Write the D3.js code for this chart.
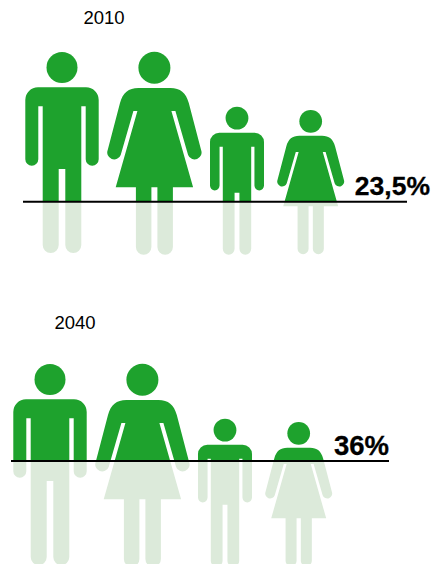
<!DOCTYPE html>
<html>
<head>
<meta charset="utf-8">
<script src="https://cdn.jsdelivr.net/npm/d3@7"></script>
<style>
  html, body { margin: 0; padding: 0; background: #fff; }
  svg { display: block; }
  text { font-family: "Liberation Sans", Arial, sans-serif; fill: #000; }
</style>
</head>
<body>
<div id="chart"></div>
<script>
// data
const years = ["2010", "2040"];
const shares = [23.5, 36];
const shareLabels = ["23,5%", "36%"];
const people = ["man", "woman", "boy", "girl"];

// layout
const width = 432, height = 564;
const green = "#1ea22d", pale = "#dceada";
const panelX = d3.scaleOrdinal().domain(years).range([0, -12]);
const panelY = d3.scaleOrdinal().domain(years).range([0, 312]);
const personX = d3.scaleOrdinal().domain(people).range([62, 154.4, 237, 310.7]);
const personTop = d3.scaleOrdinal().domain(people).range([52, 51.7, 106.7, 110]);
const personSize = d3.scaleOrdinal().domain(people).range([1, 1, 0.736, 0.71]);
// where the line crosses the figures, inside a panel
const lineY = d3.scaleLinear().domain(shares).range([201.7, 149]);
const yearX = d3.scaleOrdinal().domain(years).range([104, 75]);
const yearY = d3.scaleOrdinal().domain(years).range([24, 329]);
const lineEnd = d3.scaleOrdinal().domain(years).range([407, 401]);
const labelEnd = d3.scaleOrdinal().domain(years).range([430, 401]);
const labelY = d3.scaleOrdinal().domain(years).range([195, 143]);
const labelSize = d3.scaleOrdinal().domain(years).range([26.5, 27.5]);

// icons, origin at top centre of the figure
const manIcon = "M-24,35.3H24A12.7,12.7 0 0 1 36.7,48V107.2A6.5,6.5 0 0 1 23.7,107.2V54.3H19.3V193A8,8 0 0 1 3.3,193V117H-3.3V193A8,8 0 0 1 -19.3,193V54.3H-23.7V107.2A6.5,6.5 0 0 1 -36.7,107.2V48A12.7,12.7 0 0 1 -24,35.3Z";
const womanIcon = "M-16,36.3H16C26,36.3 31.5,41 34.4,51.3L46.7,98.3A6.8,6.8 0 0 1 33.7,103.3L21,59.3H17L38.7,135.6H18.5V195.3A7.7,7.7 0 0 1 3,195.3V135.6H-3V195.3A7.7,7.7 0 0 1 -18.5,195.3V135.6H-38.7L-17,59.3H-21L-33.7,103.3A6.8,6.8 0 0 1 -46.7,98.3L-34.4,51.3C-31.5,41 -26,36.3 -16,36.3Z";
const icons = { man: [manIcon, 15.5, 15.5], woman: [womanIcon, 16, 16], boy: [manIcon, 15.5, 15.5], girl: [womanIcon, 16, 16] };

const svg = d3.select("#chart").append("svg")
  .attr("width", width)
  .attr("height", height);

const defs = svg.append("defs");

years.forEach((year, i) => {
  const y = lineY(shares[i]);
  const g = svg.append("g")
    .attr("transform", `translate(${panelX(year)},${panelY(year)})`);

  defs.append("clipPath").attr("id", "above" + year)
    .append("rect").attr("x", -20).attr("y", -20).attr("width", 480).attr("height", y + 20);
  defs.append("clipPath").attr("id", "below" + year)
    .append("rect").attr("x", -20).attr("y", y).attr("width", 480).attr("height", 400);

  // pale copy below the line, green copy above it
  [["below", pale], ["above", green]].forEach(([side, colour]) => {
    const layer = g.append("g").attr("clip-path", `url(#${side}${year})`);
    const person = layer.selectAll("g")
      .data(people)
      .join("g")
      .attr("transform", d => `translate(${personX(d)},${personTop(d)}) scale(${personSize(d)})`)
      .attr("fill", colour);
    person.append("circle")
      .attr("cy", d => icons[d][2])
      .attr("r", d => icons[d][1]);
    person.append("path")
      .attr("d", d => icons[d][0]);
  });

  g.append("line")
    .attr("x1", 23)
    .attr("x2", lineEnd(year))
    .attr("y1", y)
    .attr("y2", y)
    .attr("stroke", "#000")
    .attr("stroke-width", 2);

  g.append("text")
    .attr("x", labelEnd(year))
    .attr("y", labelY(year))
    .attr("text-anchor", "end")
    .attr("font-size", labelSize(year))
    .attr("font-weight", "bold")
    .attr("stroke", "#000")
    .attr("stroke-width", 0.3)
    .text(shareLabels[i]);

  svg.append("text")
    .attr("x", yearX(year))
    .attr("y", yearY(year))
    .attr("text-anchor", "middle")
    .attr("font-size", 18.5)
    .text(year);
});
</script>
</body>
</html>
